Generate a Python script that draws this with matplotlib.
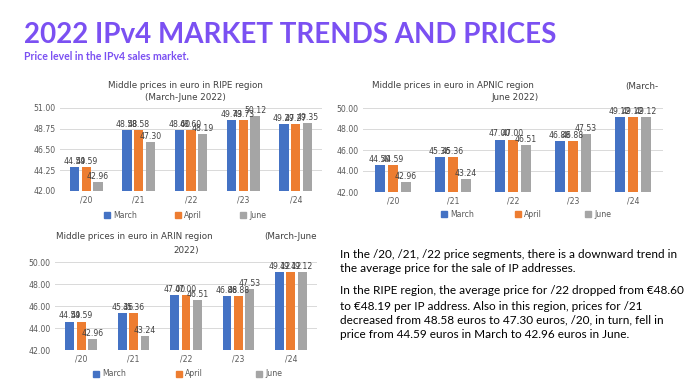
import numpy as np
import matplotlib.pyplot as plt

# ---------------- data ----------------
cats = ['/20', '/21', '/22', '/23', '/24']
months = ['March', 'April', 'June']

ripe_march = [44.59, 48.58, 48.60, 49.73, 49.27]
ripe_april = [44.59, 48.58, 48.60, 49.73, 49.27]
ripe_june = [42.96, 47.30, 48.19, 50.12, 49.35]

apnic_march = [44.59, 45.36, 47.00, 46.88, 49.12]
apnic_april = [44.59, 45.36, 47.00, 46.88, 49.12]
apnic_june = [42.96, 43.24, 46.51, 47.53, 49.12]

arin_march = [44.59, 45.36, 47.00, 46.88, 49.12]
arin_april = [44.59, 45.36, 47.00, 46.88, 49.12]
arin_june = [42.96, 43.24, 46.51, 47.53, 49.12]

ripe_ticks = [42.00, 44.25, 46.50, 48.75, 51.00]
other_ticks = [42.00, 44.00, 46.00, 48.00, 50.00]

colors = ['#4472C4', '#ED7D31', '#A5A5A5']
purple = '#7b50f2'
txtgray = '#595959'

W, H = 690, 390
fig = plt.figure(figsize=(W / 100, H / 100), dpi=100)
fig.patch.set_facecolor('white')


def px_axes(x0, y0, x1, y1):
    # pixel box (top-left origin) -> figure fraction axes
    return fig.add_axes([x0 / W, 1 - y1 / H, (x1 - x0) / W, (y1 - y0) / H])


def bar_chart(ax, series, ticks, width, step):
    x = np.arange(len(cats))
    for i, vals in enumerate(series):
        pos = x + (i - 1) * step
        ax.bar(pos, np.array(vals) - ticks[0], width, bottom=ticks[0],
               color=colors[i], zorder=3)
        for p, v in zip(pos, vals):
            ax.text(p, v + (ticks[-1] - ticks[0]) * 0.012, f'{v:.2f}',
                    ha='center', va='bottom', fontsize=5.6, color='#404040',
                    zorder=4)
    ax.set_ylim(ticks[0], ticks[-1])
    ax.set_yticks(ticks)
    ax.set_yticklabels([f'{t:.2f}' for t in ticks])
    ax.set_xlim(-0.5, len(cats) - 0.5)
    ax.set_xticks(x)
    ax.set_xticklabels(cats)
    ax.tick_params(length=0, labelsize=5.6, colors=txtgray, pad=3)
    for s in ax.spines.values():
        s.set_visible(False)
    ax.yaxis.grid(True, color='#d9d9d9', lw=0.7, zorder=0)
    ax.set_axisbelow(True)


def legend_row(xs, y):
    for c, m, xp in zip(colors, months, xs):
        fig.patches.append(plt.Rectangle(((xp - 3) / W, 1 - (y + 3) / H), 6 / W, 6 / H,
                                         transform=fig.transFigure, color=c))
        fig.text((xp + 6) / W, 1 - y / H, m, fontsize=5.6, color=txtgray,
                 va='center', ha='left')


# ---------------- header ----------------
fig.text(24 / W, 1 - 35 / H, '2022 IPv4 MARKET TRENDS AND PRICES', fontsize=20.0,
         fontweight='bold', color=purple, family='Lato', va='center', ha='left')
fig.text(24 / W, 1 - 56 / H, 'Price level in the IPv4 sales market.', fontsize=7.6,
         fontweight='bold', color=purple, family='Lato', va='center', ha='left')

# ---------------- RIPE ----------------
ax1 = px_axes(60, 108, 322, 191)
bar_chart(ax1, [ripe_march, ripe_april, ripe_june], ripe_ticks, 0.178, 0.223)
fig.text(185 / W, 1 - 86 / H, 'Middle prices in euro in RIPE region', fontsize=6.3,
         color='#404040', ha='center', va='center')
fig.text(185 / W, 1 - 97 / H, '(March-June 2022)', fontsize=6.3,
         color='#404040', ha='center', va='center')
legend_row([107, 178, 243], 215)

# ---------------- APNIC ----------------
ax2 = px_axes(363, 108, 663, 192)
bar_chart(ax2, [apnic_march, apnic_april, apnic_june], other_ticks, 0.167, 0.217)
fig.text(372 / W, 1 - 86 / H, 'Middle prices in euro in APNIC region', fontsize=6.3,
         color='#404040', ha='left', va='center')
fig.text(658 / W, 1 - 86 / H, '(March-', fontsize=6.3,
         color='#404040', ha='right', va='center')
fig.text(515 / W, 1 - 97 / H, 'June 2022)', fontsize=6.3,
         color='#404040', ha='center', va='center')
legend_row([444, 518, 588], 214)

# ---------------- ARIN ----------------
ax3 = px_axes(55, 262, 317, 350)
bar_chart(ax3, [arin_march, arin_april, arin_june], other_ticks, 0.167, 0.217)
fig.text(56 / W, 1 - 237 / H, 'Middle prices in euro in ARIN region', fontsize=6.3,
         color='#404040', ha='left', va='center')
fig.text(317 / W, 1 - 237 / H, '(March-June', fontsize=6.3,
         color='#404040', ha='right', va='center')
fig.text(186 / W, 1 - 250 / H, '2022)', fontsize=6.3,
         color='#404040', ha='center', va='center')
legend_row([96, 179, 259], 374)

# ---------------- text block ----------------
para1 = ['In the /20, /21, /22 price segments, there is a downward trend in',
         'the average price for the sale of IP addresses.']
para2 = ['In the RIPE region, the average price for /22 dropped from \u20ac48.60',
         'to \u20ac48.19 per IP address. Also in this region, prices for /21',
         'decreased from 48.58 euros to 47.30 euros, /20, in turn, fell in',
         'price from 44.59 euros in March to 42.96 euros in June.']
ys = [254, 269, 291, 306, 320, 335]
for line, y in zip(para1 + para2, ys):
    fig.text(340 / W, 1 - y / H, line, fontsize=8.45, color='black',
             family='Lato', ha='left', va='center')

fig.savefig('out.png', dpi=100)
